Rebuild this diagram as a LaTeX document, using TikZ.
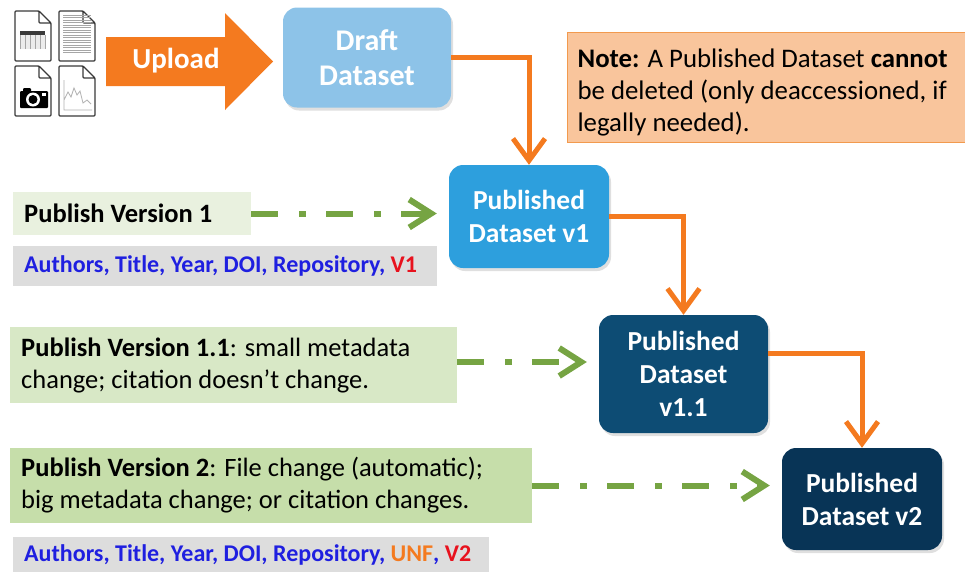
\documentclass[tikz,border=0pt]{standalone}
\usepackage{fontspec}
\setmainfont{Carlito}
\usetikzlibrary{positioning,arrows.meta,shadows}

\definecolor{upor}{HTML}{F47A1F}
\definecolor{draftc}{HTML}{8DC3E8}
\definecolor{pubone}{HTML}{2D9FDD}
\definecolor{pubonex}{HTML}{0D4C74}
\definecolor{pubtwo}{HTML}{083456}
\definecolor{notefill}{HTML}{F9C59C}
\definecolor{notedraw}{HTML}{F29A4E}
\definecolor{verone}{HTML}{E9F1DF}
\definecolor{veronex}{HTML}{D8E8C6}
\definecolor{vertwo}{HTML}{C6DEAA}
\definecolor{citec}{HTML}{DDDDDD}
\definecolor{linkc}{HTML}{76A443}
\definecolor{citeblue}{HTML}{1F1FE0}
\definecolor{citered}{HTML}{E8121E}
\definecolor{iconc}{HTML}{3A3A3A}

\begin{document}
\begin{tikzpicture}[x=1pt,y=-1pt,
  dset/.style={rounded corners=14pt, text=white, align=center, inner sep=0pt,
    font=\fontsize{27.5}{33}\selectfont\bfseries,
    drop shadow={opacity=0.25, shadow xshift=2pt, shadow yshift=-3pt}},
  ver/.style={anchor=west, align=flush left, inner xsep=11pt, inner ysep=0pt, text width=#1,
    font=\fontsize{26.5}{32}\selectfont},
  cite/.style={anchor=west, align=flush left, fill=citec, inner xsep=11pt, inner ysep=0pt,
    text width=#1, text=citeblue, font=\fontsize{24}{28}\selectfont\bfseries},
  flow/.style={draw=upor, line width=5pt,
    -{Straight Barb[length=22pt, width=32pt]}},
  link/.style={draw=linkc, line width=6pt, dash pattern=on 27pt off 21pt on 7pt off 20pt,
    -{Straight Barb[length=22pt, width=28pt]}, shorten >=12pt},
  doc/.style={draw=iconc, line width=1.4pt, fill=white, rounded corners=1pt}]

  \useasboundingbox (0,0) rectangle (965,571);

  \foreach \x/\y in {15/11, 59/11, 15/66, 59/66}
    \draw[doc] (\x,\y) -- (\x+24,\y) -- (\x+36,\y+12) -- (\x+36,\y+50) -- (\x,\y+50) -- cycle
      (\x+24,\y) -- (\x+24,\y+12) -- (\x+36,\y+12);
  \fill[gray!15] (20,35) rectangle (45,49);
  \draw[gray!70, line width=0.6pt] (20,35) grid[xstep=5, ystep=3.5] (45,49);
  \fill[iconc] (20,31) rectangle (45,35);
  \foreach \y in {15,17.5,...,54}
    \draw[gray!70, line width=0.6pt] (63,\y) -- (91,\y);
  \fill[black, rounded corners=1pt] (20,91) rectangle (48,108) (23,88) rectangle (31,92);
  \fill[white] (33,99.5) circle (7);
  \fill[black] (33,99.5) circle (4.5);
  \fill[white] (42,93) rectangle (46,96);
  \draw[gray!60, line width=0.8pt] (64,80) -- (64,110) -- (92,110)
    (64,100) -- (68,92) -- (71,97) -- (74,88) -- (77,95) -- (80,91) -- (83,103) -- (87,100) -- (91,104);

  \fill[upor] (106,37) -- (225,37) -- (225,13) -- (273,61.5) -- (225,110) -- (225,86) -- (106,86) -- cycle;
  \node[text=white, font=\fontsize{29}{35}\selectfont\bfseries] (upload) at (176,61) {Upload};

  \node[dset, fill=draftc, minimum width=168pt, minimum height=100pt,
    font=\fontsize{30}{35}\selectfont\bfseries] (draft) at (367,57.5) {Draft\\Dataset};
  \node[dset, fill=pubone, minimum width=160pt, minimum height=103pt] (v1) at (529,216.5) {Published\\Dataset v1};
  \node[dset, fill=pubonex, minimum width=169pt, minimum height=118pt] (v11) at (683.5,374) {Published\\Dataset\\v1.1};
  \node[dset, fill=pubtwo, minimum width=160pt, minimum height=102pt] (v2) at (862,499) {Published\\Dataset v2};

  \node[anchor=north west, fill=notefill, draw=notedraw, line width=1.2pt, text width=390pt,
    minimum height=110pt, align=flush left, inner xsep=10pt, inner ysep=0pt, text height=29pt,
    font=\fontsize{26.8}{32}\selectfont] (note) at (567,32)
    {\textbf{Note:} A Published Dataset \textbf{cannot}\\be deleted (only deaccessioned, if\\legally needed).};

  \node[ver=216pt, fill=verone, minimum height=43pt] (pub1) at (13,213.5)
    {\textbf{Publish Version 1}};
  \node[cite=402pt, minimum height=40pt] (cite1) at (13,266)
    {Authors, Title, Year, DOI, Repository, \textcolor{citered}{V1}};
  \node[ver=425pt, fill=veronex, minimum height=76pt] (pub11) at (10,365)
    {\textbf{Publish Version 1.1}: small metadata\\change; citation doesn’t change.};
  \node[ver=500pt, fill=vertwo, minimum height=75pt] (pub2) at (10,485.5)
    {\textbf{Publish Version 2}: File change (automatic);\\big metadata change; or citation changes.};
  \node[cite=454pt, minimum height=36pt] (cite2) at (13,555)
    {Authors, Title, Year, DOI, Repository, \textcolor{upor}{UNF}, \textcolor{citered}{V2}};

  \draw[flow] (draft.east) -| (v1.north);
  \draw[flow] (v1.east) -| (v11.north);
  \draw[flow] (v11.east |- 0,353) -| (v2.north);

  \draw[link] (pub1.east) -- (v1.west |- pub1.east);
  \draw[link] (pub11.east |- 0,362) -- (v11.west |- 0,362);
  \draw[link] (pub2.east) -- (v2.west |- pub2.east);

\end{tikzpicture}
\end{document}
